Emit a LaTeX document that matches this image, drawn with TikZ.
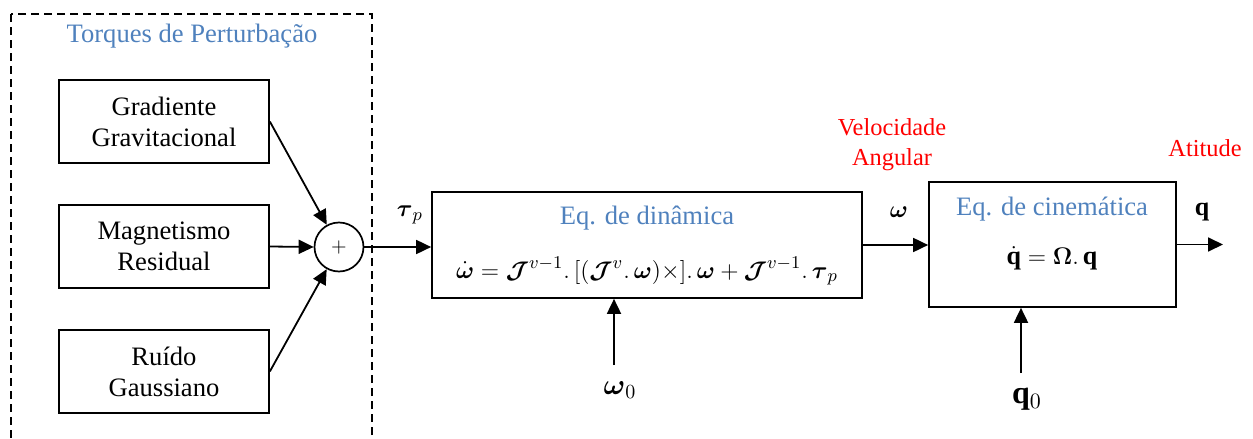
\documentclass[tikz,border=0pt]{standalone}
\usepackage{amsmath,amssymb}
\usepackage{fontspec}
\setmainfont{Liberation Serif}
\usepackage{tikz}
\usetikzlibrary{positioning, arrows.meta, calc}
\definecolor{titleblue}{RGB}{79, 129, 189}
\definecolor{labelred}{RGB}{255, 0, 0}
\newcommand{\bJ}{\boldsymbol{\mathcal{J}}}
\newcommand{\bw}{\boldsymbol{\omega}}
\newcommand{\dyneqn}{$\dot{\bw} = \bJ^{v-1}.\,[(\bJ^{v}.\,\bw)\times].\,\bw + \bJ^{v-1}.\,\boldsymbol{\tau}_p$}
\newcommand{\kineqn}{$\dot{\mathbf{q}} = \boldsymbol{\Omega}.\,\mathbf{q}$}

\begin{document}
\begin{tikzpicture}[
        x=0.5pt, y=-0.5pt,
        >={Triangle[length=7.5pt, width=7pt]},
        % Base style for the blocks
        block/.style={
            draw,
            line width=0.85pt,
            align=center,
            inner sep=2pt,
            font=\fontsize{13.3}{15.5}\selectfont
        },
        % Style for the three disturbance sources
        source/.style={block, minimum width=105pt, minimum height=41.5pt},
        % Summing junction
        summer/.style={draw, circle, line width=0.85pt, minimum size=24.5pt, inner sep=0pt},
        % Blue block titles and red signal names
        blocktitle/.style={text=titleblue, font=\fontsize{13.3}{15.5}\selectfont},
        signame/.style={text=labelred, align=center, font=\fontsize{12.2}{15}\selectfont},
        mathlbl/.style={font=\fontsize{13}{15}\selectfont},
        % Signal arrows
        signal/.style={->, line width=0.9pt},
        dashed box/.style={draw, line width=0.7pt, dash pattern=on 4pt off 2.5pt}
    ]

    \useasboundingbox (0,0) rectangle (1253,439);

    % 1. Disturbance torques group
    \draw[dashed box] (11,14) rectangle (372,460);
    \node[blocktitle] (distitle) at (192,36) {Torques de Perturbação};

    \node[source] (grav) at (164,121.5) {Gradiente\\Gravitacional};
    \node[source] (magn) at (164,246.5) {Magnetismo\\Residual};
    \node[source] (noise) at (164,371.5) {Ruído\\Gaussiano};

    \node[summer] (sum) at (339,247) {$+$};

    \draw[signal] (grav.east) -- (sum);
    \draw[signal] (magn.east) -- (sum.west);
    \draw[signal] (noise.east) -- (sum);

    % 2. Dynamics block
    \node[block, minimum width=215pt, minimum height=53pt] (dyn) at (647,245) {};
    \node[blocktitle] (dyntitle) at (647,218) {Eq. de dinâmica};
    \node[mathlbl, font=\fontsize{12.2}{14}\selectfont] (dyneq) at (647,271) {\dyneqn};

    \draw[signal] (sum.east) -- (sum.east -| dyn.west);
    \node[mathlbl] (taup) at (410,215) {$\boldsymbol{\tau}_p$};

    % 3. Kinematics block
    \node[block, minimum width=123.5pt, minimum height=62.5pt] (kin) at (1052.5,244.5) {};
    \node[blocktitle] (kintitle) at (1052,209) {Eq. de cinemática};
    \node[mathlbl] (kineq) at (1052,258) {\kineqn};

    \draw[signal] (dyn.east) -- (dyn.east -| kin.west);
    \node[mathlbl] (omega) at (899,212) {$\bw$};
    \node[signame] (vel) at (892,145) {Velocidade\\Angular};

    % 4. Output attitude
    \coordinate (qout) at (1223,244.5);
    \draw[signal] (kin.east) -- (qout);
    \node[mathlbl] (qlbl) at (1202,212) {$\mathbf{q}$};
    \node[signame] (att) at (1205,148) {Atitude};

    % 5. Initial conditions
    \node[mathlbl, font=\fontsize{14}{16}\selectfont] (w0) at (620,390) {$\bw_0$};
    \coordinate (w0start) at (614,365);
    \draw[signal] (w0start) -- (w0start |- dyn.south);

    \node[mathlbl, font=\fontsize{16}{18}\selectfont] (q0) at (1027,399) {$\mathbf{q}_0$};
    \coordinate (q0start) at (1021,373);
    \draw[signal] (q0start) -- (q0start |- kin.south);

\end{tikzpicture}
\end{document}
